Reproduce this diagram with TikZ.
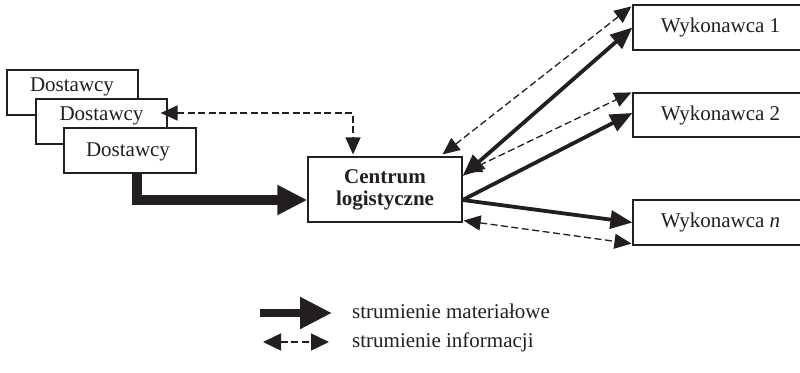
\documentclass[tikz,border=0pt]{standalone}
\usepackage{fontspec}
\setmainfont{Liberation Serif}
\usetikzlibrary{arrows.meta,calc}
\definecolor{ink}{HTML}{231F20}
\begin{document}
\begin{tikzpicture}[x=1pt,y=-1pt,
  font=\fontsize{21}{22}\selectfont, color=ink,
  box/.style={draw=ink, line width=1.2pt, fill=white, rectangle, inner sep=0pt, text=ink},
  dbox/.style={box, minimum width=131pt, minimum height=45pt},
  wbox/.style={box, minimum width=175pt, minimum height=45pt},
  lbl/.style={inner sep=0pt, text=ink},
  mat/.style={draw=ink, line width=3.8pt, -{Triangle[length=22pt,width=18pt]}},
  matboth/.style={draw=ink, line width=3.8pt, {Triangle[length=22pt,width=18pt]}-{Triangle[length=22pt,width=18pt]}},
  info/.style={draw=ink, line width=1.3pt, dash pattern=on 7pt off 3.5pt, {Triangle[length=17pt,width=15pt]}-{Triangle[length=17pt,width=15pt]}},
  big/.style={draw=ink, line width=10pt, -{Triangle[length=30pt,width=28pt]}}]
\useasboundingbox (0,0) rectangle (800,372);
\clip (0,0) rectangle (800,372);
% suppliers
\node[dbox] (d1) at (72.5,92.5) {};
\node[lbl, anchor=base] (t1) at (72,91.7) {Dostawcy};
\node[dbox] (d2) at (101.5,121.5) {};
\node[lbl, anchor=base] (t2) at (101.5,120) {Dostawcy};
\node[dbox, minimum width=132pt] (d3) at (130,150.5) {};
\node[lbl, anchor=base] (t3) at (128,156.5) {Dostawcy};
% centre
\node[box, minimum width=154pt, minimum height=65pt, align=center, font=\fontsize{21}{22}\selectfont\bfseries] (c) at (385,189.5) {Centrum\\logistyczne};
% contractors
\node[wbox] (w1) at (720.5,27.5) {Wykonawca 1};
\node[wbox, minimum height=44pt] (w2) at (720.5,115) {Wykonawca 2};
\node[wbox] (wn) at (720.5,222.5) {Wykonawca \textit{n}};
% connectors
\draw[big] ($(d3.south west)+(74,0)$) |- ($(c.west)+(0,10.5)$);
\draw[info] ($(d2.east)+(-7,-8.5)$) -| ($(c.north)+(-32,-2)$);
\draw[info] ($(c.north east)+(-20,-2)$) -- ($(w1.north west)+(-1,2)$);
\draw[matboth] ($(c.east)+(0,-13.5)$) -- (w1.west);
\draw[info] ($(c.east)+(2,-17)$) -- ($(w2.north west)+(-1,0)$);
\draw[mat] ($(c.east)+(0,10.5)$) -- ($(w2.west)+(0,-2)$);
\draw[mat] ($(c.east)+(0,10.5)$) -- (wn.west);
\draw[info] ($(c.south east)+(1,-2)$) -- ($(wn.south west)+(-1,-2)$);
% legend
\coordinate (la) at (260,313);
\coordinate (lb) at (332,313);
\coordinate (lc) at (263,342);
\coordinate (ld) at (329,342);
\draw[big, line width=8.5pt, -{Triangle[length=32pt,width=30pt]}] (la) -- (lb);
\draw[info, {Triangle[length=18pt,width=17pt]}-{Triangle[length=18pt,width=17pt]}] (lc) -- (ld);
\node[lbl, anchor=base west] (lt1) at (352,318) {strumienie materiałowe};
\node[lbl, anchor=base west] (lt2) at (352,347) {strumienie informacji};
\end{tikzpicture}
\end{document}
